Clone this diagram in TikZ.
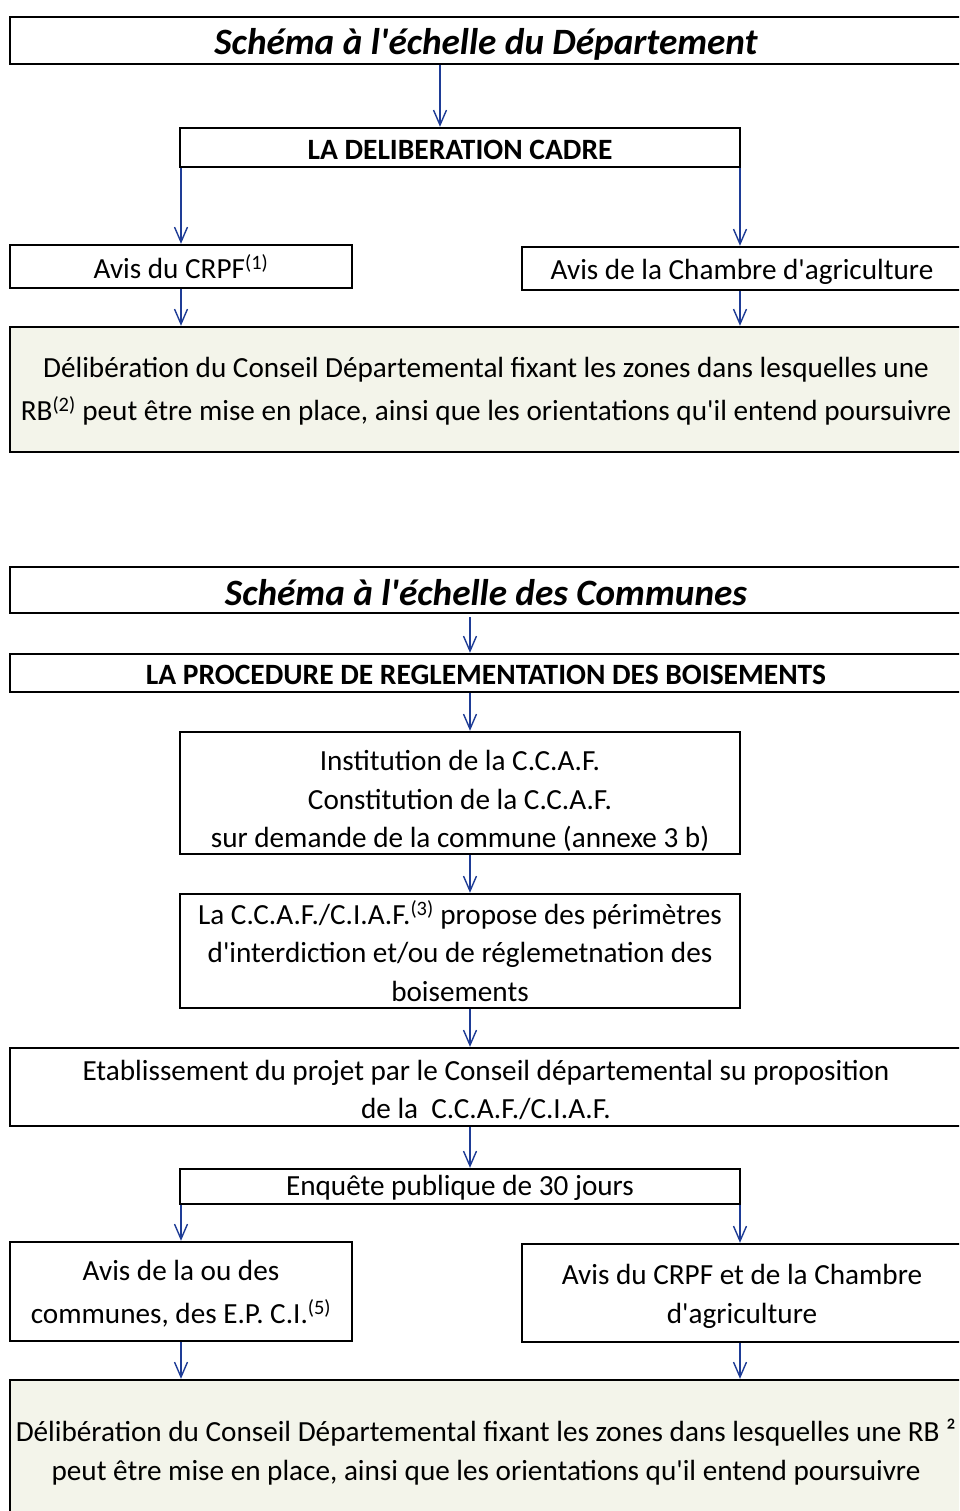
\documentclass[tikz,border=0pt]{standalone}
\usepackage{fontspec}
\setmainfont{Carlito}[Ligatures=TeXOff]
\usetikzlibrary{arrows.meta}
\definecolor{arrblue}{RGB}{30,60,150}
\definecolor{paleg}{RGB}{243,244,234}
\begin{document}
\begin{tikzpicture}[x=1bp,y=-1bp,
  box/.style={draw=black, line width=2.4bp, rectangle, inner sep=0pt},
  bigbox/.style={box, fill=paleg},
  txt/.style={inner sep=0pt, align=center, font=\fontsize{29.3}{38.5}\selectfont},
  titletxt/.style={txt, font=\fontsize{37.3}{40}\selectfont\bfseries\itshape},
  boldtxt/.style={txt, font=\fontsize{29.6}{38.5}\selectfont\bfseries},
  arr/.style={draw=arrblue, line width=1.4bp, -{Straight Barb[length=15bp,width=13bp,line width=1.4bp]}}]
\useasboundingbox (0,0) rectangle (959,1511);
\clip (0,0) rectangle (959,1511);
\fill[white] (0,0) rectangle (959,1511);

\coordinate (xa) at (440,0);
\coordinate (xl) at (181,0);
\coordinate (xr) at (740,0);
\coordinate (xm) at (470,0);

% ---------- Top part ----------
\node[box, minimum width=952bp, minimum height=47bp] (title1) at (486,40.5) {};
\node[titletxt] (title1t) at ([yshift=-4bp]title1.center) {Schéma à l'échelle du Département};

\node[box, minimum width=560bp, minimum height=39bp] (delib) at (460,147.5) {};
\node[boldtxt] (delibt) at ([yshift=-2bp]delib.center) {LA DELIBERATION CADRE};

\node[box, minimum width=342bp, minimum height=43bp] (crpf) at (181,266.5) {};
\node[txt] (crpft) at (crpf.center) {Avis du CRPF\textsuperscript{(1)}};

\node[box, minimum width=440bp, minimum height=43bp] (chambre) at (742,268.5) {};
\node[txt] (chambret) at ([yshift=-3bp]chambre.center) {Avis de la Chambre d'agriculture};

\node[bigbox, minimum width=952bp, minimum height=125bp] (big1) at (486,389.5) {};
\node[txt, font=\fontsize{29.3}{43}\selectfont] (big1t) at ([yshift=-2bp]big1.center)
  {Délibération du Conseil Départemental fixant les zones dans lesquelles une\\
   RB\textsuperscript{(2)} peut être mise en place, ainsi que les orientations qu'il entend poursuivre};

\draw[arr] (title1.south -| xa) -- (delib.north -| xa);
\draw[arr] (delib.south -| xl) -- (crpf.north -| xl);
\draw[arr] (delib.south -| xr) -- (chambre.north -| xr);
\draw[arr] (crpf.south -| xl) -- (big1.north -| xl);
\draw[arr] (chambre.south -| xr) -- (big1.north -| xr);

% ---------- Bottom part ----------
\node[box, minimum width=952bp, minimum height=46bp] (title2) at (486,590) {};
\node[titletxt] (title2t) at ([yshift=-3bp]title2.center) {Schéma à l'échelle des Communes};

\node[box, minimum width=952bp, minimum height=38bp] (proc) at (486,673) {};
\node[boldtxt] (proct) at ([yshift=-2bp]proc.center) {LA PROCEDURE DE REGLEMENTATION DES BOISEMENTS};

\node[box, minimum width=560bp, minimum height=122bp] (inst) at (460,793) {};
\node[txt] (instt) at ([yshift=-8bp]inst.center)
  {Institution de la C.C.A.F.\\ Constitution de la C.C.A.F.\\ sur demande de la commune (annexe 3 b)};

\node[box, minimum width=560bp, minimum height=114bp] (ccaf) at (460,951) {};
\node[txt] (ccaft) at (ccaf.center)
  {La C.C.A.F./C.I.A.F.\textsuperscript{(3)} propose des périmètres\\ d'interdiction et/ou de réglemetnation des\\ boisements};

\node[box, minimum width=952bp, minimum height=78bp] (etab) at (486,1087) {};
\node[txt] (etabt) at ([yshift=-3bp]etab.center)
  {Etablissement du projet par le Conseil départemental su proposition\\ de la\ \ C.C.A.F./C.I.A.F.};

\node[box, minimum width=560bp, minimum height=35bp] (enq) at (460,1186.5) {};
\node[txt] (enqt) at ([yshift=-1bp]enq.center) {Enquête publique de 30 jours};

\node[box, minimum width=342bp, minimum height=99bp] (avis5) at (181,1291.5) {};
\node[txt, font=\fontsize{29.3}{43}\selectfont] (avis5t) at ([yshift=-2bp]avis5.center)
  {Avis de la ou des\\ communes, des E.P. C.I.\textsuperscript{(5)}};

\node[box, minimum width=440bp, minimum height=98bp] (crpf2) at (742,1293) {};
\node[txt, font=\fontsize{29.3}{39}\selectfont] (crpf2t) at ([yshift=-3bp]crpf2.center)
  {Avis du CRPF et de la Chambre\\ d'agriculture};

\node[bigbox, minimum width=952bp, minimum height=140bp] (big2) at (486,1450) {};
\node[txt, font=\fontsize{29.3}{40}\selectfont] (big2t) at ([yshift=-2bp]big2.center)
  {Délibération du Conseil Départemental fixant les zones dans lesquelles une RB ²\\
   peut être mise en place, ainsi que les orientations qu'il entend poursuivre};

\draw[arr] ([yshift=-3bp]title2.south -| xm) -- (proc.north -| xm);
\draw[arr] (proc.south -| xm) -- (inst.north -| xm);
\draw[arr] (inst.south -| xm) -- (ccaf.north -| xm);
\draw[arr] (ccaf.south -| xm) -- (etab.north -| xm);
\draw[arr] (etab.south -| xm) -- (enq.north -| xm);
\draw[arr] (enq.south -| xl) -- (avis5.north -| xl);
\draw[arr] (enq.south -| xr) -- (crpf2.north -| xr);
\draw[arr] (avis5.south -| xl) -- (big2.north -| xl);
\draw[arr] (crpf2.south -| xr) -- (big2.north -| xr);
\end{tikzpicture}
\end{document}
